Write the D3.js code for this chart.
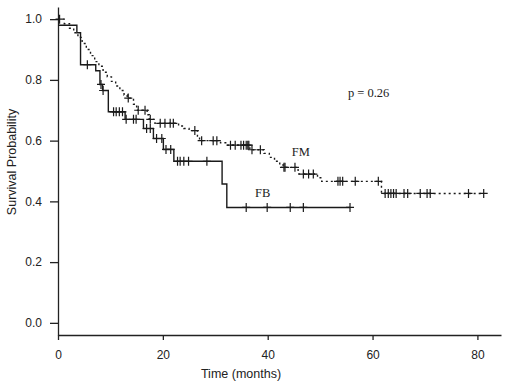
<!DOCTYPE html>
<html>
<head>
<meta charset="utf-8">
<script src="https://cdn.jsdelivr.net/npm/d3@7"></script>
<style>
  body { margin: 0; background: #fff; }
  .axis text { font-family: "Liberation Sans", Arial, sans-serif; font-size: 12px; fill: #222; }
  .axis path, .axis line { stroke: #222; stroke-width: 1.3; }
  .km-line { fill: none; stroke: #1a1a1a; stroke-width: 1.4; }
  .censor { fill: none; stroke: #1a1a1a; stroke-width: 1.2; }
</style>
</head>
<body>
<svg id="chart"></svg>
<script>
// Kaplan-Meier steps: [time in months, survival after the step]
const fbSteps = [
  [0, 0.98], [3.6, 0.955], [4.3, 0.85], [7.2, 0.83], [8.0, 0.785], [8.5, 0.765],
  [9.6, 0.695], [12.8, 0.67], [16.3, 0.64], [18.2, 0.607], [20.1, 0.571],
  [22.1, 0.532], [31.3, 0.457], [32.2, 0.38]
];
const fbCensored = [5.6, 8.2, 8.6, 10.6, 11.1, 11.7, 12.3, 13.0, 14.4, 14.9, 16.9, 17.6,
  18.8, 19.8, 20.6, 21.5, 22.8, 23.3, 24.0, 24.9, 28.4, 35.9, 39.9, 44.3, 46.8, 55.7];
const fbEnd = 55.7;

const fmSteps = [
  [0, 1.0], [1.2, 0.985], [2.2, 0.97], [3.0, 0.955], [3.8, 0.94], [4.6, 0.92],
  [5.4, 0.90], [6.2, 0.88], [7.0, 0.86], [7.8, 0.845], [8.6, 0.825], [9.4, 0.81],
  [10.2, 0.795], [11.0, 0.78], [11.8, 0.765], [12.6, 0.75], [13.2, 0.74], [14.4, 0.72],
  [15.0, 0.70], [17.0, 0.685], [17.4, 0.67], [18.5, 0.657], [23.0, 0.648], [24.0, 0.64],
  [25.0, 0.633], [26.6, 0.615], [27.0, 0.60], [31.0, 0.593], [32.2, 0.585], [36.6, 0.57],
  [39.3, 0.558], [40.3, 0.545], [41.3, 0.532], [42.3, 0.52], [43.0, 0.512], [45.8, 0.49],
  [49.5, 0.478], [50.3, 0.466], [61.7, 0.426]
];
const fmCensored = [0.3, 13.4, 15.3, 16.6, 17.6, 19.5, 20.4, 21.4, 22.0, 26.1, 27.4, 29.6,
  30.3, 32.9, 33.8, 34.9, 35.4, 35.9, 36.2, 36.4, 37.0, 38.6, 43.1, 43.3, 45.2, 46.8, 47.8,
  48.7, 53.4, 53.8, 54.3, 56.7, 61.1, 62.4, 63.0, 63.5, 64.0, 64.5, 66.0, 66.7, 69.1, 70.4,
  71.0, 78.3, 81.2];
const fmEnd = 81.2;

const xTicks = [0, 20, 40, 60, 80];
const yTicks = [0, 0.2, 0.4, 0.6, 0.8, 1.0];
const pValueText = "p = 0.26";

class kmChart {
  constructor(_config) {
    this.config = {
      parentElement: _config.parentElement,
      containerWidth: _config.containerWidth || 520,
      containerHeight: _config.containerHeight || 390
    };
    this.initVis();
  }

  initVis() {
    let vis = this;

    vis.svg = d3.select(vis.config.parentElement)
      .attr('width', vis.config.containerWidth)
      .attr('height', vis.config.containerHeight);

    // axes meet at the corner, a bit beyond the data range
    vis.xScale = d3.scaleLinear().domain([0, 84.5]).range([58, 501]);
    vis.yScale = d3.scaleLinear().domain([-0.04, 1.04]).range([335, 7]);

    vis.xAxis = d3.axisBottom(vis.xScale)
      .tickValues(xTicks)
      .tickSize(5).tickSizeOuter(0).tickPadding(10)
      .tickFormat(d3.format("d"));

    vis.yAxis = d3.axisLeft(vis.yScale)
      .tickValues(yTicks)
      .tickSize(8).tickSizeOuter(0).tickPadding(8)
      .tickFormat(d3.format(".1f"));

    vis.xAxisG = vis.svg.append("g")
      .attr("class", "axis x-axis")
      .attr("transform", `translate(0,${vis.yScale(-0.04)})`);

    vis.yAxisG = vis.svg.append("g")
      .attr("class", "axis y-axis")
      .attr("transform", `translate(${vis.xScale(0)},0)`);

    vis.updateVis();
  }

  updateVis() {
    let vis = this;

    vis.line = d3.line()
      .x(d => vis.xScale(d[0]))
      .y(d => vis.yScale(d[1]))
      .curve(d3.curveStepAfter);

    // survival value at time t from a step list
    vis.survAt = (steps, t) => {
      let s = steps[0][1];
      steps.forEach(d => { if (d[0] <= t) s = d[1]; });
      return s;
    };

    vis.curves = [
      {name: "FB", steps: fbSteps, censored: fbCensored, end: fbEnd, dash: null},
      {name: "FM", steps: fmSteps, censored: fmCensored, end: fmEnd, dash: "2,3"}
    ];

    vis.renderVis();
  }

  renderVis() {
    let vis = this;

    vis.xAxisG.call(vis.xAxis);
    vis.yAxisG.call(vis.yAxis);

    vis.curves.forEach(c => {
      const pts = c.steps.concat([[c.end, c.steps[c.steps.length - 1][1]]]);

      vis.svg.append("path")
        .datum(pts)
        .attr("class", "km-line")
        .attr("stroke-dasharray", c.dash)
        .attr("d", vis.line);

      vis.svg.append("g").selectAll("path")
        .data(c.censored)
        .join("path")
        .attr("class", "censor")
        .attr("transform", d => `translate(${vis.xScale(d)},${vis.yScale(vis.survAt(c.steps, d))})`)
        .attr("d", "M-4,0H4M0,-4.5V4.5");
    });

    // curve labels and p-value
    vis.svg.append("text")
      .attr("x", vis.xScale(44.6)).attr("y", vis.yScale(0.55))
      .attr("font-family", "Liberation Serif, Times New Roman, serif")
      .attr("font-size", 12.5).attr("fill", "#222")
      .text("FM");

    vis.svg.append("text")
      .attr("x", vis.xScale(37.6)).attr("y", vis.yScale(0.415))
      .attr("font-family", "Liberation Serif, Times New Roman, serif")
      .attr("font-size", 12.5).attr("fill", "#222")
      .text("FB");

    vis.svg.append("text")
      .attr("x", vis.xScale(55.3)).attr("y", vis.yScale(0.745))
      .attr("font-family", "Liberation Serif, Times New Roman, serif")
      .attr("font-size", 12.5).attr("fill", "#222")
      .text(pValueText);

    // axis titles
    vis.svg.append("text")
      .attr("x", 241).attr("y", 378)
      .attr("text-anchor", "middle")
      .attr("font-family", "Liberation Sans, Arial, sans-serif")
      .attr("font-size", 12.5).attr("fill", "#222")
      .text("Time (months)");

    vis.svg.append("text")
      .attr("transform", "translate(16,162) rotate(-90)")
      .attr("text-anchor", "middle")
      .attr("font-family", "Liberation Sans, Arial, sans-serif")
      .attr("font-size", 12.5).attr("fill", "#222")
      .text("Survival Probability");
  }
}

new kmChart({parentElement: "#chart"});
</script>
</body>
</html>
